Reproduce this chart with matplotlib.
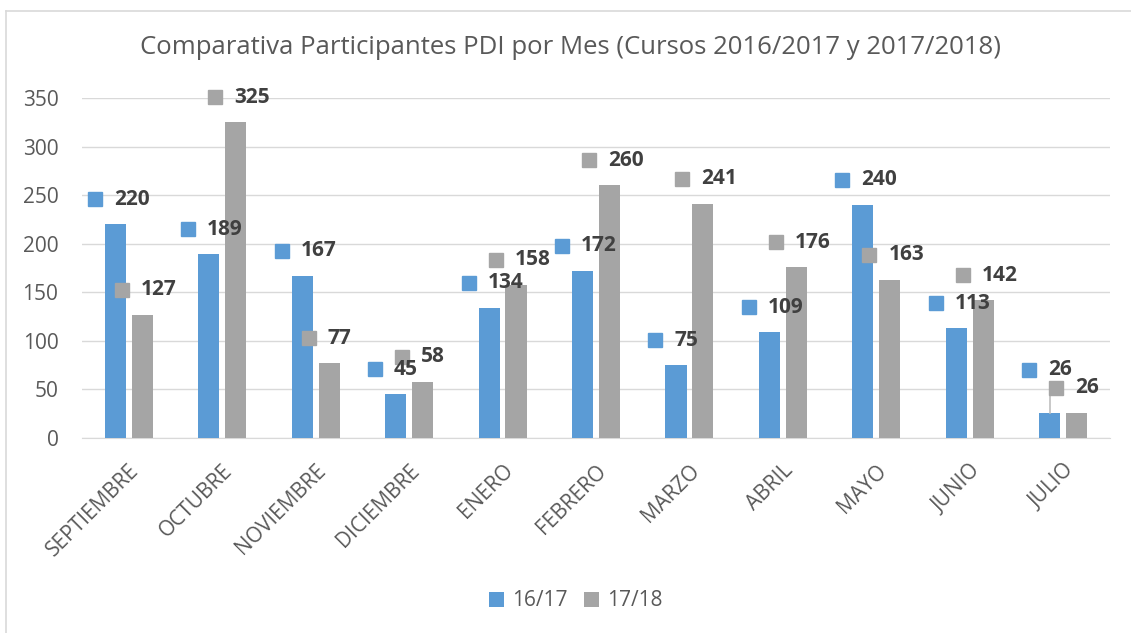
import matplotlib.pyplot as plt
import numpy as np
from matplotlib.lines import Line2D

meses = ["SEPTIEMBRE", "OCTUBRE", "NOVIEMBRE", "DICIEMBRE", "ENERO", "FEBRERO",
         "MARZO", "ABRIL", "MAYO", "JUNIO", "JULIO"]
curso_1617 = [220, 189, 167, 45, 134, 172, 75, 109, 240, 113, 26]
curso_1718 = [127, 325, 77, 58, 158, 260, 241, 176, 163, 142, 26]
yticks = [0, 50, 100, 150, 200, 250, 300, 350]

azul = "#5B9BD5"
gris = "#A5A5A5"
texto = "#595959"

plt.rcParams['font.family'] = ['Open Sans', 'DejaVu Sans']

fig = plt.figure(figsize=(11.31, 6.33), dpi=100)
ax = fig.add_axes([82/1131, 195/633, 1028/1131, 340/633])

x = np.arange(len(meses))
w = 0.225
off = 0.144
ax.bar(x - off, curso_1617, w, color=azul, label="16/17", zorder=3)
ax.bar(x + off, curso_1718, w, color=gris, label="17/18", zorder=3)

ax.set_xlim(-0.5, len(meses) - 0.5)
ax.set_ylim(0, 350)
ax.set_yticks(yticks)
ax.tick_params(axis='y', length=0, labelsize=15, labelcolor=texto, pad=17)
ax.tick_params(axis='x', length=0, labelsize=15, labelcolor=texto, pad=16)
ax.set_xticks(x)
ax.set_xticklabels(meses, rotation=45, ha='right', rotation_mode='anchor')
ax.grid(axis='y', color="#D9D9D9", linewidth=1, zorder=0)
for s in ["top", "right", "left"]:
    ax.spines[s].set_visible(False)
ax.spines["bottom"].set_color("#D9D9D9")


def etiqueta(xp, v, col, dx, dy=25):
    # legend-key square plus bold value, placed above the bar
    px, py = ax.transData.transform((xp, v))
    mx, my = px + dx, py + dy
    fig.add_artist(Line2D([mx], [my], marker='s', markersize=10, color=col,
                          transform=None, linestyle='none'))
    fig.text(mx + 19, my, str(v), transform=None, fontsize=15,
             fontweight='bold', color="#404040", va='center', ha='left')


fig.canvas.draw()
for i in range(len(meses)):
    dy1 = 25
    if i == len(meses) - 1:
        dy1 = 43
        px, py = ax.transData.transform((x[i] - off, curso_1617[i]))
        fig.add_artist(Line2D([px, px], [py, py + 25], color="#BFBFBF",
                              linewidth=1.2, transform=None))
    etiqueta(x[i], curso_1617[i], azul, -34, dy1)
    etiqueta(x[i], curso_1718[i], gris, -7, 25)

fig.text(571/1131, 1 - 48/633,
         "Comparativa Participantes PDI por Mes (Cursos 2016/2017 y 2017/2018)",
         fontsize=18.5, color=texto, ha='center', va='center')

fig.legend(loc='center', bbox_to_anchor=(576/1131, 1 - 601/633), ncol=2, frameon=False,
           fontsize=15, labelcolor=texto, handlelength=0.7, handleheight=0.7,
           handletextpad=0.4, columnspacing=0.8)

fig.add_artist(Line2D([6/1131, 1], [1 - 11/633, 1 - 11/633], color="#D9D9D9",
                      linewidth=1.2, transform=fig.transFigure))
fig.add_artist(Line2D([6/1131, 6/1131], [0, 1 - 11/633], color="#D9D9D9",
                      linewidth=1.2, transform=fig.transFigure))

fig.savefig("out.png", dpi=100)
